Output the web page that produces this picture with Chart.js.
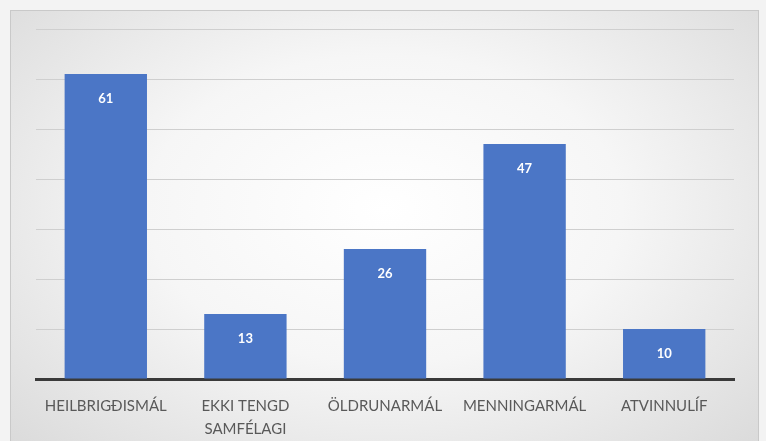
<!DOCTYPE html>
<html>
<head>
<meta charset="utf-8">
<script src="https://cdn.jsdelivr.net/npm/chart.js@4/dist/chart.umd.min.js"></script>
<style>
  body { margin: 0; background: #f3f3f3; width: 766px; height: 441px; overflow: hidden; }
  #frame {
    position: absolute; left: 10px; top: 10px; width: 747px; height: 440px;
    border: 1px solid #c9c9c9;
    background: radial-gradient(ellipse at 50% 45%, #ffffff 0%, #f6f6f6 45%, #dadada 100%);
  }
  canvas { display: block; }
</style>
</head>
<body>
<div id="frame"><canvas id="chart" width="747" height="431"></canvas></div>
<script>
const categories = ["HEILBRIGÐISMÁL", ["EKKI TENGD", "SAMFÉLAGI"], "ÖLDRUNARMÁL", "MENNINGARMÁL", "ATVINNULÍF"];
const counts = [61, 13, 26, 47, 10];
const yMax = 70;
const yStep = 10;

// white value text near the top of each bar
const barLabels = {
  id: "barLabels",
  afterDatasetsDraw(chart) {
    const ctx = chart.ctx;
    const meta = chart.getDatasetMeta(0);
    ctx.save();
    ctx.fillStyle = "#ffffff";
    ctx.font = "bold 13px Lato, 'Open Sans', sans-serif";
    ctx.textAlign = "center";
    ctx.textBaseline = "middle";
    meta.data.forEach((bar, i) => {
      ctx.fillText(counts[i], bar.x, bar.y + 25);
    });
    ctx.restore();
  },
};

const ctx = document.getElementById("chart").getContext("2d");
new Chart(ctx, {
  type: "bar",
  data: {
    labels: categories,
    datasets: [
      {
        data: counts,
        backgroundColor: "#4b76c6",
        categoryPercentage: 1,
        barPercentage: 0.59,
      },
    ],
  },
  options: {
    responsive: false,
    animation: false,
    layout: { padding: { left: 25, right: 24, top: 18, bottom: 0 } },
    plugins: { legend: { display: false }, tooltip: { enabled: false } },
    scales: {
      x: {
        grid: { display: false },
        border: { display: true, color: "#3a3a3a", width: 3 },
        ticks: {
          color: "#595959",
          font: { family: "Lato, 'Open Sans', sans-serif", size: 15, lineHeight: 1.5 },
          padding: 8,
          maxRotation: 0,
          autoSkip: false,
        },
        afterFit(scale) { scale.height = 63; },
      },
      y: {
        min: 0,
        max: yMax,
        ticks: { display: false, stepSize: yStep },
        grid: { color: "#cfcfcf", lineWidth: 1, drawTicks: false },
        border: { display: false },
        afterFit(scale) { scale.width = 0; },
      },
    },
  },
  plugins: [barLabels],
});
</script>
</body>
</html>
